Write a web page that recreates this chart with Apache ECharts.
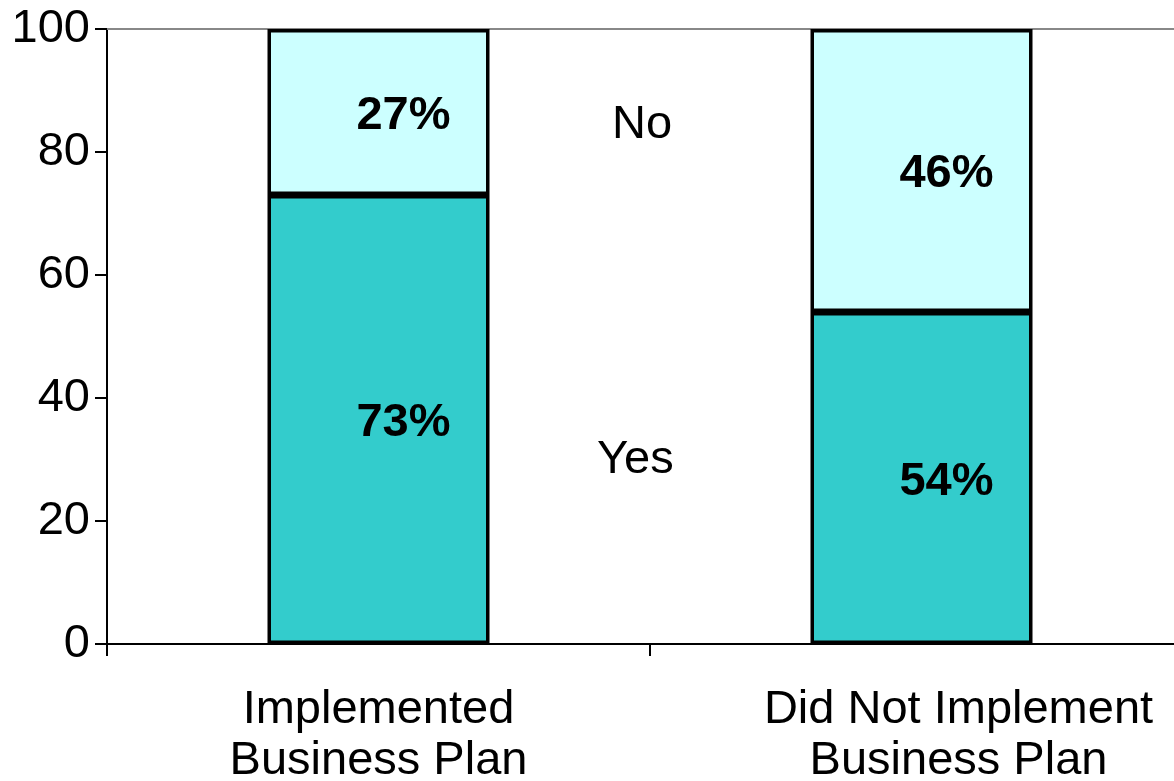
<!DOCTYPE html>
<html>
<head>
<meta charset="utf-8">
<script src="https://cdn.jsdelivr.net/npm/echarts@6/dist/echarts.min.js"></script>
<style>
html,body{margin:0;padding:0;background:#fff;}
#chart{width:1174px;height:781px;}
</style>
</head>
<body>
<div id="chart"></div>
<script>
const categories = ['Implemented\nBusiness Plan', 'Did Not Implement\nBusiness Plan'];
const yesValues = [73, 54];
const noValues = [27, 46];
const yTicks = [0, 20, 40, 60, 80, 100];

const FONT = '"Liberation Sans", Arial, sans-serif';
const chart = echarts.init(document.getElementById('chart'));

const labelStyle = {
  show: true,
  position: 'inside',
  offset: [25, 4],
  formatter: '{c}%',
  fontFamily: FONT,
  fontSize: 47,
  fontWeight: 'bold',
  color: '#000'
};

// the second category label sits to the right of its slot in the reference
const categoryData = categories.map(function (c, i) {
  return i === 1 ? { value: c, textStyle: { padding: [0, 0, 0, 74] } } : { value: c };
});

chart.setOption({
  animation: false,
  backgroundColor: '#fff',
  grid: { left: 107, top: 29, width: 1086, height: 615, containLabel: false, outerBoundsMode: 'none' },
  xAxis: [
    {
      type: 'category',
      data: categoryData,
      boundaryGap: true,
      axisLine: { lineStyle: { color: '#000', width: 2 } },
      axisTick: { show: true, length: 12, lineStyle: { color: '#000', width: 2 } },
      axisLabel: { margin: 41, fontFamily: FONT, fontSize: 47, lineHeight: 51, color: '#000' },
      splitLine: { show: false }
    },
    {
      type: 'category',
      data: categories,
      position: 'top',
      axisLine: { lineStyle: { color: '#888', width: 2 } },
      axisTick: { show: false },
      axisLabel: { show: false },
      splitLine: { show: false }
    }
  ],
  yAxis: {
    type: 'value',
    min: yTicks[0],
    max: yTicks[yTicks.length - 1],
    interval: 20,
    axisLine: { show: true, lineStyle: { color: '#000', width: 2 } },
    axisTick: { show: true, length: 12, lineStyle: { color: '#000', width: 2 } },
    axisLabel: { margin: 17, fontFamily: FONT, fontSize: 47, color: '#000' },
    splitLine: { show: false }
  },
  series: [
    {
      name: 'Yes',
      type: 'bar',
      stack: 'total',
      data: yesValues,
      barWidth: 222,
      itemStyle: { color: '#33CCCC', borderColor: '#000', borderWidth: 3.5 },
      label: labelStyle
    },
    {
      name: 'No',
      type: 'bar',
      stack: 'total',
      data: noValues,
      barWidth: 222,
      itemStyle: { color: '#CCFFFF', borderColor: '#000', borderWidth: 3.5 },
      label: labelStyle
    }
  ],
  graphic: [
    { type: 'text', left: 612, top: 102, style: { text: 'No', font: '47px ' + FONT, fill: '#000' } },
    { type: 'text', left: 597, top: 437, style: { text: 'Yes', font: '47px ' + FONT, fill: '#000' } }
  ]
});
</script>
</body>
</html>
